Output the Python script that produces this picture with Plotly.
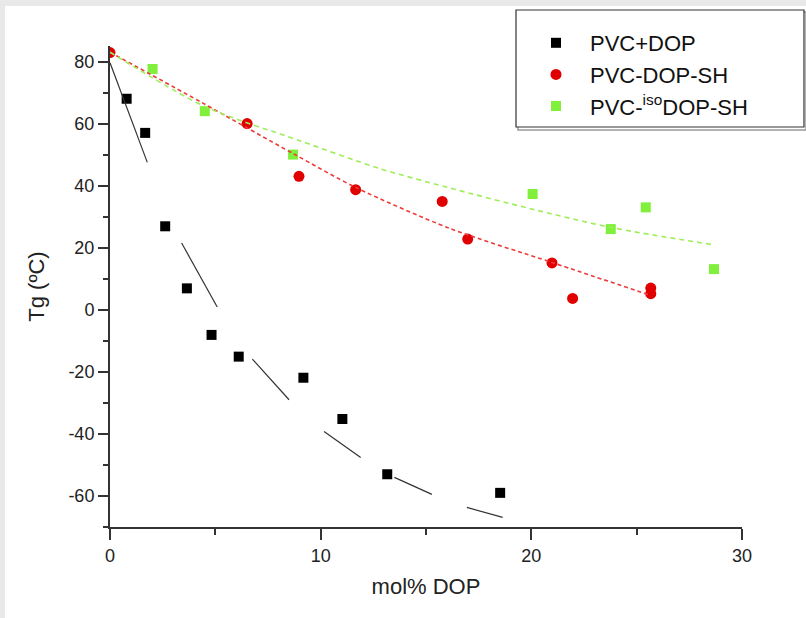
import plotly.graph_objects as go

# ---- data ----
# PVC+DOP (black squares)
dop_x = [0.79, 1.67, 2.62, 3.65, 4.82, 6.11, 9.18, 11.03, 13.16, 18.52]
dop_y = [68, 57, 26.9, 6.9, -8.1, -15.1, -21.9, -35.2, -53, -59]
# PVC+DOP fitted curve (long broken dashes, None = gap)
dop_fit_x = [0, 1.77, None, 3.40, 5.09, None, 6.76, 8.5, None, 10.16, 11.9, None, 13.5, 15.28, None, 16.94, 18.64]
dop_fit_y = [79.6, 47.5, None, 21.5, 0.9, None, -15.9, -29, None, -39.2, -47.6, None, -54, -59.5, None, -63.7, -66.9]

# PVC-DOP-SH (red circles)
sh_x = [0.0, 6.51, 8.97, 11.66, 15.77, 16.98, 20.98, 21.96, 25.67, 25.67]
sh_y = [82.9, 60, 43.0, 38.7, 34.9, 22.8, 15.1, 3.65, 7.0, 5.2]
sh_fit_x = [0, 4.3, 8.7, 11.7, 16.1, 21.0, 25.6]
sh_fit_y = [83, 67, 50.3, 39.3, 26.3, 15.2, 4.8]

# PVC-isoDOP-SH (green squares)
iso_x = [2.02, 4.50, 8.69, 20.06, 23.77, 25.43, 28.67]
iso_y = [77.6, 64, 50, 37.3, 26.0, 33.0, 13.1]
iso_fit_x = [0, 4.5, 9.0, 12.8, 16.1, 20.0, 23.8, 28.6]
iso_fit_y = [83, 65.5, 54.5, 45.5, 39.3, 32.5, 26.5, 21]

x_ticks = [0, 10, 20, 30]
x_labels = ["0", "10", "20", "30"]
y_ticks = [-60, -40, -20, 0, 20, 40, 60, 80]
y_labels = ["-60", "-40", "-20", "0", "20", "40", "60", "80"]

FONT = "Liberation Sans, Arial, sans-serif"
RED = "#e00000"
GREEN = "#80f03c"

fig = go.Figure()

fig.add_trace(go.Scatter(x=dop_x, y=dop_y, mode="markers", name="PVC+DOP",
                         marker=dict(symbol="square", size=10, color="#000000")))
fig.add_trace(go.Scatter(x=sh_x, y=sh_y, mode="markers", name="PVC-DOP-SH",
                         marker=dict(symbol="circle", size=11, color=RED)))
fig.add_trace(go.Scatter(x=iso_x, y=iso_y, mode="markers", name="PVC-<sup>iso</sup>DOP-SH",
                         marker=dict(symbol="square", size=10, color=GREEN)))

fig.add_trace(go.Scatter(x=dop_fit_x, y=dop_fit_y, mode="lines", showlegend=False,
                         connectgaps=False, line=dict(color="#333333", width=1.2)))
fig.add_trace(go.Scatter(x=sh_fit_x, y=sh_fit_y, mode="lines", showlegend=False,
                         line=dict(color="#ee3a3a", width=1.6, dash="4px,3px",
                                   shape="spline", smoothing=0.8)))
fig.add_trace(go.Scatter(x=iso_fit_x, y=iso_fit_y, mode="lines", showlegend=False,
                         line=dict(color="#9eee5a", width=1.6, dash="5px,4px",
                                   shape="spline", smoothing=0.8)))

W, H = 806, 618
L, R, T, B = 110, 64, 46, 91
pw, ph = W - L - R, H - T - B

def px(x):
    return (x - L) / pw

def py(y):
    return (H - B - y) / ph

shapes = [
    # white inner page on light gray border
    dict(type="rect", xref="paper", yref="paper", x0=px(5), x1=px(812), y0=py(625), y1=py(6),
         fillcolor="white", line=dict(width=0), layer="below"),
    # legend shadow
    dict(type="rect", xref="paper", yref="paper", x0=px(518), x1=px(806), y0=py(130), y1=py(12),
         fillcolor="rgba(0,0,0,0)", line=dict(color="#9a9a9a", width=1.5), layer="above"),
    # legend box
    dict(type="rect", xref="paper", yref="paper", x0=px(516), x1=px(804), y0=py(127), y1=py(10),
         fillcolor="white", line=dict(color="#333333", width=1.2), layer="above"),
]

fig.update_layout(
    width=W, height=H,
    margin=dict(l=L, r=R, t=T, b=B),
    paper_bgcolor="#e9e9e9",
    plot_bgcolor="white",
    font=dict(family=FONT, color="#222222"),
    shapes=shapes,
    showlegend=True,
    legend=dict(x=px(522), y=py(22), xanchor="left", yanchor="top",
                bgcolor="rgba(0,0,0,0)", borderwidth=0, itemwidth=58,
                font=dict(family=FONT, size=22, color="#111111")),
    xaxis=dict(range=[0, 30], tickvals=x_ticks, ticktext=x_labels, showgrid=False, zeroline=False,
               showline=True, linecolor="#333333", linewidth=2,
               ticks="outside", ticklen=11, tickwidth=1.5, tickcolor="#333333",
               minor=dict(dtick=5, ticks="outside", ticklen=6, tickwidth=1.5, tickcolor="#333333"),
               tickfont=dict(size=18),
               title=dict(text="mol% DOP", font=dict(size=22), standoff=14)),
    yaxis=dict(range=[-70, 85], tickvals=y_ticks, ticktext=y_labels, showgrid=False, zeroline=False,
               showline=True, linecolor="#333333", linewidth=2,
               ticks="outside", ticklen=10, tickwidth=1.5, tickcolor="#333333",
               minor=dict(dtick=10, ticks="outside", ticklen=5, tickwidth=1.5, tickcolor="#333333"),
               tickfont=dict(size=18),
               title=dict(text="Tg (ºC)", font=dict(size=22), standoff=18)),
)

fig.write_html("out.html")
